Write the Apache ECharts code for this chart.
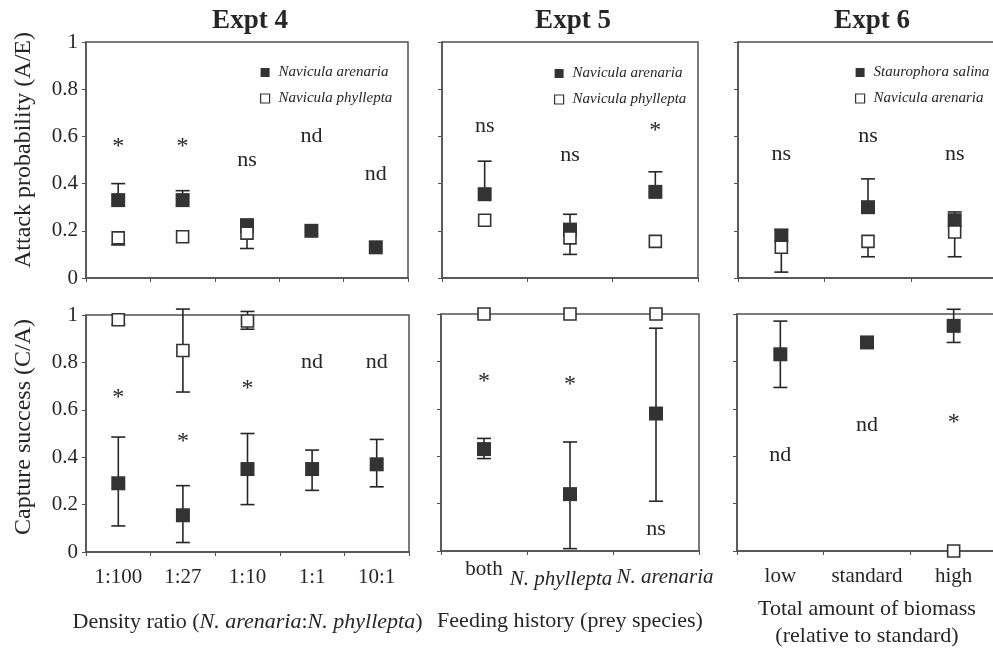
<!DOCTYPE html>
<html>
<head>
<meta charset="utf-8">
<script src="https://cdn.jsdelivr.net/npm/echarts@6/dist/echarts.min.js"></script>
<style>html,body{margin:0;padding:0;background:#fff}#c{width:993px;height:648px}</style>
</head>
<body>
<div id="c"></div>
<script>
// ---------- data ----------
const expt4Cats = ['1:100', '1:27', '1:10', '1:1', '10:1'];
const expt5Cats = ['both', 'N. phyllepta', 'N. arenaria'];
const expt6Cats = ['low', 'standard', 'high'];

// Expt 4 – attack probability
const e4AttackAren = [0.33, 0.33, 0.22, 0.20, 0.13];
const e4AttackArenLo = [null, null, null, null, null];
const e4AttackArenHi = [0.40, 0.37, 0.25, null, null];
const e4AttackPhyl = [0.17, 0.175, 0.19, null, null];
const e4AttackPhylLo = [0.14, null, 0.125, null, null];
const e4AttackPhylHi = [null, null, null, null, null];
const e4AttackNotes = [[0, 0.58, '*'], [1, 0.58, '*'], [2, 0.50, 'ns'], [3, 0.60, 'nd'], [4, 0.44, 'nd']];

// Expt 4 – capture success
const e4CapAren = [0.29, 0.155, 0.35, 0.35, 0.37];
const e4CapArenLo = [0.11, 0.04, 0.20, 0.26, 0.275];
const e4CapArenHi = [0.485, 0.28, 0.50, 0.43, 0.475];
const e4CapPhyl = [0.98, 0.85, 0.975, null, null];
const e4CapPhylLo = [0.96, 0.675, 0.94, null, null];
const e4CapPhylHi = [1.0, 1.025, 1.015, null, null];
const e4CapNotes = [[0, 0.675, '*'], [1, 0.49, '*'], [2, 0.715, '*'], [3, 0.80, 'nd'], [4, 0.80, 'nd']];

// Expt 5 – attack probability
const e5AttackAren = [0.355, 0.205, 0.365];
const e5AttackArenLo = [null, 0.10, null];
const e5AttackArenHi = [0.495, 0.27, 0.45];
const e5AttackPhyl = [0.245, 0.17, 0.155];
const e5AttackPhylLo = [null, null, null];
const e5AttackPhylHi = [null, null, null];
const e5AttackNotes = [[0, 0.645, 'ns'], [1, 0.52, 'ns'], [2, 0.65, '*']];

// Expt 5 – capture success
const e5CapAren = [0.43, 0.24, 0.58];
const e5CapArenLo = [0.39, 0.01, 0.21];
const e5CapArenHi = [0.475, 0.46, 0.94];
const e5CapPhyl = [1.0, 1.0, 1.0];
const e5CapPhylLo = [null, null, null];
const e5CapPhylHi = [null, null, null];
const e5CapNotes = [[0, 0.74, '*'], [1, 0.725, '*'], [2, 0.09, 'ns']];

// Expt 6 – attack probability
const e6AttackStau = [0.18, 0.30, 0.245];
const e6AttackStauLo = [null, null, null];
const e6AttackStauHi = [0.205, 0.42, 0.28];
const e6AttackAren = [0.13, 0.155, 0.195];
const e6AttackArenLo = [0.025, 0.09, 0.09];
const e6AttackArenHi = [null, null, null];
const e6AttackNotes = [[0, 0.525, 'ns'], [1, 0.60, 'ns'], [2, 0.525, 'ns']];

// Expt 6 – capture success
const e6CapStau = [0.83, 0.88, 0.95];
const e6CapStauLo = [0.69, null, 0.88];
const e6CapStauHi = [0.97, null, 1.02];
const e6CapAren = [null, null, 0.0];
const e6CapArenLo = [null, null, null];
const e6CapArenHi = [null, null, null];
const e6CapNotes = [[0, 0.405, 'nd'], [1, 0.53, 'nd'], [2, 0.565, '*']];

const titles = ['Expt 4', 'Expt 5', 'Expt 6'];
const yMin = 0, yMax = 1, yStep = 0.2;

// ---------- styling / layout ----------
const FONT = 'Liberation Serif';
const INK = '#262626';
const AXIS = '#505050';

const grids = [
  { left: 86, top: 42, width: 322, height: 236 },
  { left: 86, top: 315, width: 323, height: 237 },
  { left: 442, top: 42, width: 256, height: 236 },
  { left: 441, top: 314, width: 258, height: 237 },
  { left: 738, top: 42, width: 260, height: 236 },
  { left: 737, top: 314, width: 260, height: 237 }
];

const panels = [
  { cats: expt4Cats, filled: [e4AttackAren, e4AttackArenLo, e4AttackArenHi], open: [e4AttackPhyl, e4AttackPhylLo, e4AttackPhylHi], notes: e4AttackNotes, fName: 'Navicula arenaria', oName: 'Navicula phyllepta', yLabels: true, xLabels: false },
  { cats: expt4Cats, filled: [e4CapAren, e4CapArenLo, e4CapArenHi], open: [e4CapPhyl, e4CapPhylLo, e4CapPhylHi], notes: e4CapNotes, fName: 'Navicula arenaria', oName: 'Navicula phyllepta', yLabels: true, xLabels: true },
  { cats: expt5Cats, filled: [e5AttackAren, e5AttackArenLo, e5AttackArenHi], open: [e5AttackPhyl, e5AttackPhylLo, e5AttackPhylHi], notes: e5AttackNotes, fName: 'Navicula arenaria', oName: 'Navicula phyllepta', yLabels: false, xLabels: false },
  { cats: expt5Cats, filled: [e5CapAren, e5CapArenLo, e5CapArenHi], open: [e5CapPhyl, e5CapPhylLo, e5CapPhylHi], notes: e5CapNotes, fName: 'Navicula arenaria', oName: 'Navicula phyllepta', yLabels: false, xLabels: true },
  { cats: expt6Cats, filled: [e6AttackStau, e6AttackStauLo, e6AttackStauHi], open: [e6AttackAren, e6AttackArenLo, e6AttackArenHi], notes: e6AttackNotes, fName: 'Staurophora salina', oName: 'Navicula arenaria ', yLabels: false, xLabels: false },
  { cats: expt6Cats, filled: [e6CapStau, e6CapStauLo, e6CapStauHi], open: [e6CapAren, e6CapArenLo, e6CapArenHi], notes: e6CapNotes, fName: 'Staurophora salina', oName: 'Navicula arenaria ', yLabels: false, xLabels: true }
];

const xNames = [
  null,
  { text: 'Density ratio ({i|N. arenaria}:{i|N. phyllepta})', gap: 57 },
  null,
  { text: 'Feeding history (prey species)', gap: 57 },
  null,
  { text: 'Total amount of biomass\n(relative to standard)', gap: 45 }
];

function errData(mean, lo, hi) {
  const out = [];
  mean.forEach((m, i) => {
    if (m == null) return;
    if (lo[i] == null && hi[i] == null) return;
    out.push([i, lo[i] == null ? m : lo[i], hi[i] == null ? m : hi[i], lo[i] == null ? 0 : 1, hi[i] == null ? 0 : 1]);
  });
  return out;
}
function ptData(mean) {
  const out = [];
  mean.forEach((m, i) => { if (m != null) out.push([i, m]); });
  return out;
}
function renderErr(params, api) {
  const x = api.value(0);
  const a = api.coord([x, api.value(1)]);
  const b = api.coord([x, api.value(2)]);
  const w = 7;
  const st = { stroke: INK, lineWidth: 1.6 };
  const ch = [{ type: 'line', shape: { x1: a[0], y1: a[1], x2: b[0], y2: b[1] }, style: st }];
  if (api.value(3)) ch.push({ type: 'line', shape: { x1: a[0] - w, y1: a[1], x2: a[0] + w, y2: a[1] }, style: st });
  if (api.value(4)) ch.push({ type: 'line', shape: { x1: b[0] - w, y1: b[1], x2: b[0] + w, y2: b[1] }, style: st });
  return { type: 'group', children: ch };
}

const richX = {
  i: { fontStyle: 'italic', fontFamily: FONT, fontSize: 21, color: INK, padding: [10, 0, 0, 0] },
  il: { fontStyle: 'italic', fontFamily: FONT, fontSize: 21, color: INK, padding: [10, 18, 0, 0] },
  ir: { fontStyle: 'italic', fontFamily: FONT, fontSize: 21, color: INK, padding: [8, 0, 0, 18] }
};
function xFmt(v, idx) {
  if (v.indexOf('N. ') !== 0) return v;
  return idx === 1 ? '{il|' + v + '}' : '{ir|' + v + '}';
}

const xAxes = [], yAxes = [], series = [];
panels.forEach((p, gi) => {
  const xn = xNames[gi];
  xAxes.push({
    type: 'category', gridIndex: gi, data: p.cats, boundaryGap: true,
    axisLine: { show: true, lineStyle: { color: AXIS, width: 1.5 } },
    axisTick: { show: true, length: 4, lineStyle: { color: AXIS } },
    axisLabel: {
      show: p.xLabels, interval: 0, hideOverlap: false, margin: gi === 3 ? 8 : 15, color: INK, fontFamily: FONT, fontSize: 21,
      formatter: xFmt, rich: richX
    },
    name: xn ? xn.text : '', nameLocation: 'middle', nameGap: xn ? xn.gap : 0,
    nameTextStyle: { color: INK, fontFamily: FONT, fontSize: 22, lineHeight: 27,
      rich: { i: { fontStyle: 'italic', fontFamily: FONT, fontSize: 22, color: INK } } },
    splitLine: { show: false }
  });
  yAxes.push({
    type: 'value', gridIndex: gi, min: yMin, max: yMax, interval: yStep,
    axisLine: { show: true, lineStyle: { color: AXIS, width: 1.5 } },
    axisTick: { show: true, length: 4, lineStyle: { color: AXIS } },
    axisLabel: { show: p.yLabels, margin: 8, color: INK, fontFamily: FONT, fontSize: 21 },
    splitLine: { show: false }
  });
  series.push({ type: 'custom', xAxisIndex: gi, yAxisIndex: gi, renderItem: renderErr, data: errData(p.filled[0], p.filled[1], p.filled[2]), encode: { x: 0, y: [1, 2] }, z: 2, silent: true });
  series.push({ type: 'custom', xAxisIndex: gi, yAxisIndex: gi, renderItem: renderErr, data: errData(p.open[0], p.open[1], p.open[2]), encode: { x: 0, y: [1, 2] }, z: 2, silent: true });
  series.push({ type: 'scatter', name: p.fName, xAxisIndex: gi, yAxisIndex: gi, symbol: 'rect', symbolSize: 14, clip: false, z: 3,
    itemStyle: { color: '#333', opacity: 1 }, data: ptData(p.filled[0]) });
  series.push({ type: 'scatter', name: p.oName, xAxisIndex: gi, yAxisIndex: gi, symbol: 'rect', symbolSize: 12, clip: false, z: 4,
    itemStyle: { color: '#fff', borderColor: '#333', borderWidth: 1.6, opacity: 1 }, data: ptData(p.open[0]) });
  series.push({ type: 'scatter', xAxisIndex: gi, yAxisIndex: gi, symbol: 'circle', symbolSize: 1, clip: false, z: 5, silent: true,
    itemStyle: { color: '#fff', opacity: 1 },
    label: { show: true, position: 'inside', formatter: '{b}', color: INK, fontFamily: FONT, fontSize: 22, textBorderWidth: 0, opacity: 1 },
    data: p.notes.map(n => ({ name: n[2], value: [n[0], n[1]],
      label: n[2] === '*' ? { fontSize: 24, offset: [0, 6] } : {} })) });
});

const legItem = (name, filled) => ({
  name: name, icon: 'rect',
  itemStyle: filled ? { color: '#333', borderWidth: 0 } : { color: '#fff', borderColor: '#333', borderWidth: 1.2 }
});
const legBase = { orient: 'vertical', selectedMode: false, itemWidth: 9, itemHeight: 9, itemGap: 11,
  textStyle: { fontFamily: FONT, fontStyle: 'italic', fontSize: 15, color: INK, lineHeight: 15, padding: [0, 0, 0, 4] } };

const option = {
  backgroundColor: '#fff',
  animation: false,
  title: titles.map((t, i) => ({
    text: t, left: [250, 573, 872][i], top: 8, padding: 0, textAlign: 'center',
    textStyle: { fontFamily: FONT, fontWeight: 'bold', fontSize: 27, color: INK }
  })),
  grid: grids.map(g => Object.assign({ show: true, borderColor: AXIS, borderWidth: 1.5, backgroundColor: 'transparent', containLabel: false, outerBoundsMode: 'none' }, g)),
  xAxis: xAxes,
  yAxis: yAxes,
  legend: [
    Object.assign({ left: 255, top: 60, data: [legItem('Navicula arenaria', true), legItem('Navicula phyllepta', false)] }, legBase),
    Object.assign({ left: 549, top: 61, data: [legItem('Navicula arenaria', true), legItem('Navicula phyllepta', false)] }, legBase),
    Object.assign({ left: 850, top: 60, data: [legItem('Staurophora salina', true), legItem('Navicula arenaria ', false)] }, legBase)
  ],
  graphic: [
    { type: 'text', x: 24, y: 150, rotation: Math.PI / 2,
      style: { text: 'Attack probability (A/E)', fill: INK, font: '24px "Liberation Serif"', textAlign: 'center', textVerticalAlign: 'middle' } },
    { type: 'text', x: 24, y: 427, rotation: Math.PI / 2,
      style: { text: 'Capture success (C/A)', fill: INK, font: '24px "Liberation Serif"', textAlign: 'center', textVerticalAlign: 'middle' } }
  ],
  series: series
};

const chart = echarts.init(document.getElementById('c'), null, { renderer: 'canvas' });
chart.setOption(option);
</script>
</body>
</html>
